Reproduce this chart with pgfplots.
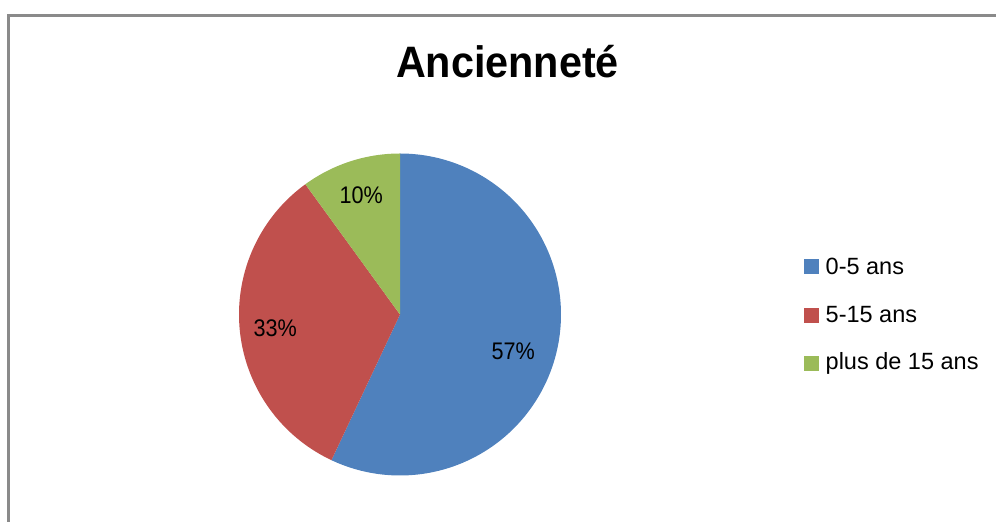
\documentclass[border=0pt]{standalone}
\usepackage{pgfplots}
\pgfplotsset{compat=1.18}
\usepackage{fontspec}
\setmainfont{Liberation Sans}
\newfontfamily\lblfont[FakeStretch=0.9]{Liberation Sans}
\newfontfamily\ttlfont[FakeStretch=0.94]{Liberation Sans}
\definecolor{pieblue}{HTML}{4F81BD}
\definecolor{piered}{HTML}{C0504D}
\definecolor{piegreen}{HTML}{9BBB59}
\definecolor{bordergray}{HTML}{8A8A8A}
% data (percent)
\def\va{57}
\def\vb{33}
\def\vc{10}
\pgfmathsetmacro{\aA}{90-3.6*\va}          % end of blue
\pgfmathsetmacro{\aB}{\aA-3.6*\vb+360}     % end of red (as positive angle)
\pgfmathsetmacro{\aAp}{\aA+360}
\begin{document}
\begin{tikzpicture}
\useasboundingbox (0,0) rectangle (996pt,522pt);
\begin{axis}[at={(0,0)}, anchor=south west, scale only axis,
  width=996pt, height=522pt, xmin=0, xmax=996, ymin=0, ymax=522,
  hide axis, clip=false]
% border
\draw[color=bordergray, line width=3pt] (axis cs:8.5,0) -- (axis cs:8.5,506.5) -- (axis cs:996,506.5);
% slices
\addplot[fill=pieblue, draw=none, domain=\aA:90, samples=200]
  ({400+161*cos(x)},{207.5+161*sin(x)}) -- (axis cs:400,207.5) -- cycle;
\addplot[fill=piered, draw=none, domain=\aB:\aAp, samples=150]
  ({400+161*cos(x)},{207.5+161*sin(x)}) -- (axis cs:400,207.5) -- cycle;
\addplot[fill=piegreen, draw=none, domain=90:\aB, samples=60]
  ({400+161*cos(x)},{207.5+161*sin(x)}) -- (axis cs:400,207.5) -- cycle;
% title
\node[anchor=base, font=\ttlfont\bfseries\fontsize{44}{50}\selectfont, inner sep=0pt] at (axis cs:507.5,444.3) {Ancienneté};
% data labels
\node[anchor=base, font=\lblfont\fontsize{24}{28}\selectfont, inner sep=0pt] at (axis cs:513.3,162) {57\%};
\node[anchor=base, font=\lblfont\fontsize{24}{28}\selectfont, inner sep=0pt] at (axis cs:275.3,185.3) {33\%};
\node[anchor=base, font=\lblfont\fontsize{24}{28}\selectfont, inner sep=0pt] at (axis cs:361.2,318.7) {10\%};
% legend
\fill[pieblue] (axis cs:804,248) rectangle (axis cs:819,263);
\fill[piered] (axis cs:804,199) rectangle (axis cs:819,214);
\fill[piegreen] (axis cs:804,151) rectangle (axis cs:819,166);
\node[anchor=base west, font=\fontsize{23.5}{28}\selectfont, inner sep=0pt] at (axis cs:825.5,247.7) {0-5 ans};
\node[anchor=base west, font=\fontsize{23.5}{28}\selectfont, inner sep=0pt] at (axis cs:825.5,199.3) {5-15 ans};
\node[anchor=base west, font=\fontsize{23.5}{28}\selectfont, inner sep=0pt] at (axis cs:825.5,152) {plus de 15 ans};
\end{axis}
\end{tikzpicture}
\end{document}
